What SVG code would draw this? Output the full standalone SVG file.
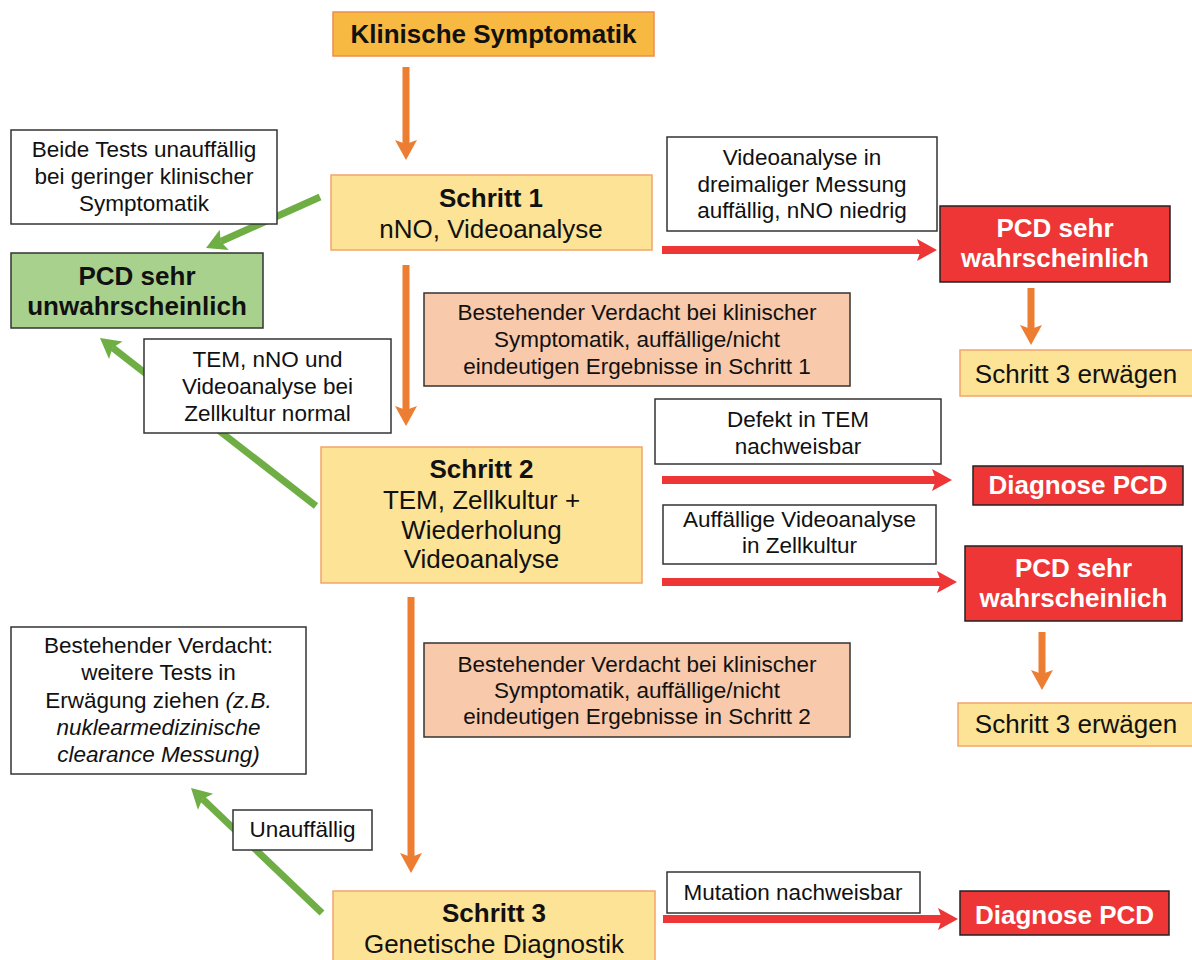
<svg xmlns="http://www.w3.org/2000/svg" width="1192" height="960" viewBox="0 0 1192 960">
<style>
text{font-family:"Liberation Sans",Arial,sans-serif;fill:#111;text-anchor:middle}
.b{font-weight:bold;font-size:26px}
.n{font-size:26px}
.l{font-size:22.5px}
.w{fill:#fff}
.it{font-style:italic}
.lab{fill:#fff;stroke:#333;stroke-width:1.5}
.peach{fill:#f8c9aa;stroke:#333;stroke-width:1.5}
.step{fill:#fde395;stroke:#f3a46b;stroke-width:1.5}
.red{fill:#ee3636;stroke:#222;stroke-width:1.5}
.grn{fill:#a8d18d;stroke:#333;stroke-width:1.5}
.ao{stroke:#ed7d31;stroke-width:7;fill:none}
.ag{stroke:#6fae45;stroke-width:7;fill:none}
.ar{stroke:#ee3636;stroke-width:8;fill:none}
</style>
<defs>
<marker id="mo" markerUnits="userSpaceOnUse" viewBox="-10 -15 30 30" markerWidth="30" markerHeight="30" refX="0" refY="0" orient="auto"><path d="M-4,-11 L16,0 L-4,11 L0,0 Z" fill="#ed7d31"/></marker>
<marker id="mg" markerUnits="userSpaceOnUse" viewBox="-10 -15 30 30" markerWidth="30" markerHeight="30" refX="0" refY="0" orient="auto"><path d="M-4,-11 L16,0 L-4,11 L0,0 Z" fill="#6fae45"/></marker>
<marker id="mr" markerUnits="userSpaceOnUse" viewBox="-10 -15 30 30" markerWidth="30" markerHeight="30" refX="0" refY="0" orient="auto"><path d="M-4,-11 L16,0 L-4,11 L0,0 Z" fill="#ee3636"/></marker>
</defs>
<g id="connectors">
<line class="ao" x1="406" y1="67" x2="406" y2="144" marker-end="url(#mo)"/>
<line class="ao" x1="406" y1="265" x2="406" y2="410" marker-end="url(#mo)"/>
<line class="ao" x1="411" y1="597" x2="411" y2="857" marker-end="url(#mo)"/>
<line class="ao" x1="1031" y1="288" x2="1031" y2="329" marker-end="url(#mo)"/>
<line class="ao" x1="1042" y1="632" x2="1042" y2="674" marker-end="url(#mo)"/>
<line class="ag" x1="320" y1="197" x2="220.6" y2="241.5" marker-end="url(#mg)"/>
<line class="ag" x1="316" y1="506" x2="112.6" y2="347.8" marker-end="url(#mg)"/>
<line class="ag" x1="322" y1="913" x2="202.6" y2="799" marker-end="url(#mg)"/>
<line class="ar" x1="662" y1="250" x2="921" y2="250" marker-end="url(#mr)"/>
<line class="ar" x1="662" y1="480" x2="936" y2="480" marker-end="url(#mr)"/>
<line class="ar" x1="662" y1="582" x2="941" y2="582" marker-end="url(#mr)"/>
<line class="ar" x1="663" y1="919" x2="942" y2="919" marker-end="url(#mr)"/>
</g>
<g id="klinische">
<rect x="333" y="12" width="321" height="44" fill="#f7b942" stroke="#f08c50" stroke-width="1.5"/>
<text class="b" x="493.5" y="43">Klinische Symptomatik</text>
</g>
<g id="schritt1">
<rect class="step" x="331" y="175" width="321" height="75"/>
<text class="b" x="491" y="207">Schritt 1</text>
<text class="n" x="491" y="238">nNO, Videoanalyse</text>
</g>
<g id="schritt2">
<rect class="step" x="321" y="447" width="321" height="136"/>
<text class="b" x="481.5" y="478">Schritt 2</text>
<text class="n" x="481.5" y="509">TEM, Zellkultur +</text>
<text class="n" x="481.5" y="539">Wiederholung</text>
<text class="n" x="481.5" y="568">Videoanalyse</text>
</g>
<g id="schritt3">
<rect class="step" x="333" y="891" width="322" height="80"/>
<text class="b" x="494" y="922">Schritt 3</text>
<text class="n" x="494" y="953">Genetische Diagnostik</text>
</g>
<g id="beide">
<rect class="lab" x="11" y="130" width="266" height="94"/>
<text class="l" x="144" y="157">Beide Tests unauffällig</text>
<text class="l" x="144" y="184">bei geringer klinischer</text>
<text class="l" x="144" y="211">Symptomatik</text>
</g>
<g id="unwahrscheinlich">
<rect class="grn" x="11" y="253" width="252" height="75"/>
<text class="b" x="137" y="285">PCD sehr</text>
<text class="b" x="137" y="315">unwahrscheinlich</text>
</g>
<g id="temnormal">
<rect class="lab" x="144" y="339" width="247" height="94"/>
<text class="l" x="267.5" y="367">TEM, nNO und</text>
<text class="l" x="267.5" y="394">Videoanalyse bei</text>
<text class="l" x="267.5" y="421">Zellkultur normal</text>
</g>
<g id="videolabel">
<rect class="lab" x="667" y="137" width="270" height="94"/>
<text class="l" x="802" y="165">Videoanalyse in</text>
<text class="l" x="802" y="192">dreimaliger Messung</text>
<text class="l" x="802" y="218">auffällig, nNO niedrig</text>
</g>
<g id="pcd1">
<rect class="red" x="940" y="206" width="230" height="76"/>
<text class="b w" x="1055" y="237">PCD sehr</text>
<text class="b w" x="1055" y="267">wahrscheinlich</text>
</g>
<g id="erwaegen1">
<rect class="step" x="960" y="350" width="240" height="46"/>
<text class="n" x="1076" y="383">Schritt 3 erwägen</text>
</g>
<g id="verdacht1">
<rect class="peach" x="424" y="293" width="426" height="93"/>
<text class="l" x="637" y="320">Bestehender Verdacht bei klinischer</text>
<text class="l" x="637" y="347">Symptomatik, auffällige/nicht</text>
<text class="l" x="637" y="374">eindeutigen Ergebnisse in Schritt 1</text>
</g>
<g id="defekt">
<rect class="lab" x="655" y="399" width="286" height="65"/>
<text class="l" x="798" y="427">Defekt in TEM</text>
<text class="l" x="798" y="454">nachweisbar</text>
</g>
<g id="diagnose1">
<rect class="red" x="973" y="466" width="210" height="39"/>
<text class="b w" x="1078" y="494">Diagnose PCD</text>
</g>
<g id="auffaellig">
<rect class="lab" x="663" y="505" width="273" height="59"/>
<text class="l" x="799.5" y="527">Auffällige Videoanalyse</text>
<text class="l" x="799.5" y="553">in Zellkultur</text>
</g>
<g id="pcd2">
<rect class="red" x="965" y="546" width="217" height="75"/>
<text class="b w" x="1073.5" y="577">PCD sehr</text>
<text class="b w" x="1073.5" y="607">wahrscheinlich</text>
</g>
<g id="erwaegen2">
<rect class="step" x="958" y="703" width="240" height="43"/>
<text class="n" x="1076" y="733">Schritt 3 erwägen</text>
</g>
<g id="verdacht2">
<rect class="peach" x="424" y="643" width="426" height="94"/>
<text class="l" x="637" y="672">Bestehender Verdacht bei klinischer</text>
<text class="l" x="637" y="698">Symptomatik, auffällige/nicht</text>
<text class="l" x="637" y="724">eindeutigen Ergebnisse in Schritt 2</text>
</g>
<g id="weitere">
<rect class="lab" x="11" y="627" width="295" height="147"/>
<text class="l" x="158.5" y="653">Bestehender Verdacht:</text>
<text class="l" x="158.5" y="680">weitere Tests in</text>
<text class="l" x="158.5" y="708">Erwägung ziehen <tspan class="it">(z.B.</tspan></text>
<text class="l it" x="158.5" y="735">nuklearmedizinische</text>
<text class="l it" x="158.5" y="762">clearance Messung)</text>
</g>
<g id="unauffaellig">
<rect class="lab" x="233" y="810" width="139" height="40"/>
<text class="l" x="302.5" y="837">Unauffällig</text>
</g>
<g id="mutation">
<rect class="lab" x="667" y="872" width="253" height="41"/>
<text class="l" x="793" y="900">Mutation nachweisbar</text>
</g>
<g id="diagnose2">
<rect class="red" x="960" y="891" width="209" height="44"/>
<text class="b w" x="1064.5" y="924">Diagnose PCD</text>
</g>
</svg>
